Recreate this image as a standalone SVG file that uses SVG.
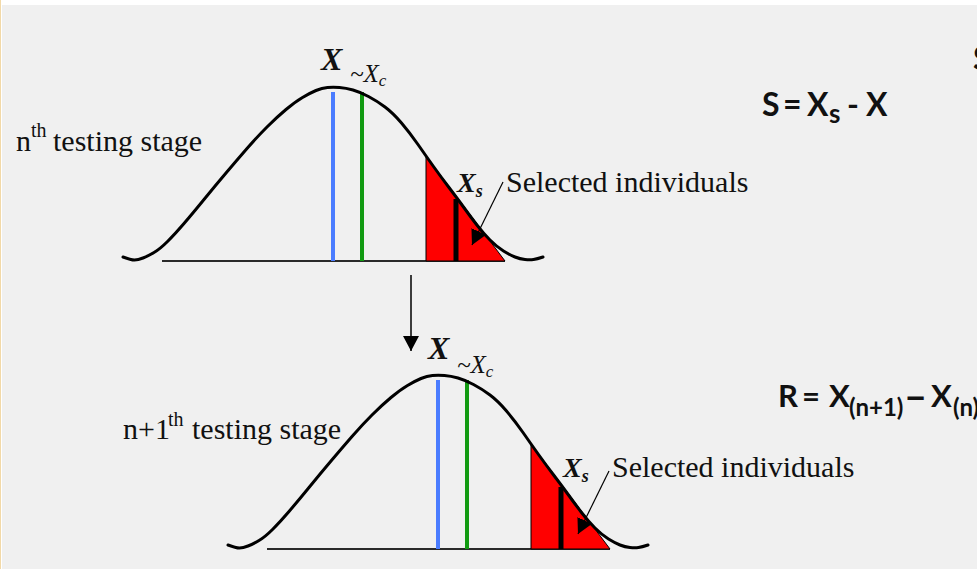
<svg xmlns="http://www.w3.org/2000/svg" xmlns:xlink="http://www.w3.org/1999/xlink" width="977" height="569" viewBox="0 0 977 569">
<style>
.curve{fill:none;stroke:#000;stroke-width:3;stroke-linecap:round;stroke-linejoin:round}
.base{stroke:#2a2a2a;stroke-width:2}
.mean{stroke:#4a7cff;stroke-width:4}
.sel{stroke:#119a11;stroke-width:4}
.tri{fill:#ff0000;stroke:#000;stroke-width:1}
.bar{stroke:#000;stroke-width:5}
.serif{font-family:"Liberation Serif","Times New Roman",serif;fill:#111}
.bi{font-weight:bold;font-style:italic}
.it{font-style:italic}
.calc{font-family:Lato,"Liberation Sans",sans-serif;font-weight:bold;fill:#111}
.lead{stroke:#000;stroke-width:1.2;fill:none}
.down{stroke:#000;stroke-width:1.5;fill:none}
</style>
<defs>
<marker id="ah" markerUnits="userSpaceOnUse" markerWidth="16" markerHeight="16" refX="15" refY="8" orient="auto" viewBox="0 0 16 16"><path d="M0,0 L15,8 L0,16 z" fill="#000"/></marker>
<g id="dist">
<line class="base" x1="162" y1="261" x2="505" y2="261"/>
<line class="mean" x1="333" y1="92" x2="333" y2="261"/>
<line class="sel" x1="362" y1="92" x2="362" y2="261"/>
<polygon class="tri" points="426,156 426,261 505,261"/>
<line class="bar" x1="456" y1="199" x2="456" y2="261"/>
<path class="curve" d="M123,257 Q131,260 134.5,260 Q138,260 143,258 Q148,256 154,252.5 Q160,249 167.5,241.5 Q175,234 184,223.5 Q193,213 204,199.5 Q215,186 226,173 Q237,160 247,148.5 Q257,137 267,127 Q277,117 286,109.5 Q295,102 302.5,97.5 Q310,93 316,90.5 Q322,88 327.5,87.5 Q333,87 339.5,87.5 Q346,88 353,90 Q360,92 368.5,96.5 Q377,101 385,107 Q393,113 401.5,123 Q410,133 418,144.5 Q426,156 433.5,166.5 Q441,177 449,187.5 Q457,198 463.5,207 Q470,216 476.5,224.5 Q483,233 490,240 Q497,247 503.5,251 Q510,255 515,257 Q520,259 525,259.5 Q530,260 533.5,259.5 Q537,259 543,257"/>
</g>
</defs>
<rect x="0" y="0" width="977" height="569" fill="#ffffff"/>
<rect x="2" y="5" width="975" height="564" fill="#f0f0f0"/>
<line x1="0.5" y1="0" x2="0.5" y2="569" stroke="#f2d9a8" stroke-width="1"/>

<g id="stage-n">
<use href="#dist" xlink:href="#dist"/>
<text class="serif" font-size="30" y="151"><tspan x="16">n</tspan><tspan x="31" y="137" font-size="20">th</tspan><tspan x="53" y="151">testing stage</tspan></text>
<text class="serif bi" font-size="32" x="321" y="70">X</text>
<text class="serif it" font-size="25" x="350" y="82">~X<tspan font-size="17" dy="4">c</tspan></text>
<text class="serif bi" font-size="28" x="457" y="192">X<tspan class="it" font-size="18" dy="5">s</tspan></text>
<text class="serif" font-size="30" x="506" y="192">Selected individuals</text>
</g>

<g id="stage-n1">
<use href="#dist" xlink:href="#dist" transform="translate(105,288)"/>
<text class="serif" font-size="30" y="439"><tspan x="123">n+1</tspan><tspan x="168" y="426" font-size="20">th</tspan><tspan x="192" y="439">testing stage</tspan></text>
<text class="serif bi" font-size="32" x="428" y="359">X</text>
<text class="serif it" font-size="25" x="457" y="373">~X<tspan font-size="17" dy="4">c</tspan></text>
<text class="serif bi" font-size="28" x="563" y="477">X<tspan class="it" font-size="18" dy="5">s</tspan></text>
<text class="serif" font-size="30" x="612" y="477">Selected individuals</text>
</g>

<g id="formula-s">
<text class="calc" font-size="32" y="116"><tspan x="762">S</tspan><tspan x="783">=</tspan><tspan x="807">X</tspan><tspan x="829" font-size="26" dy="7">s</tspan><tspan x="847" dy="-7">-</tspan><tspan x="866">X</tspan></text>
</g>
<g id="formula-r">
<text class="calc" font-size="31" y="407"><tspan x="778">R</tspan><tspan x="802">=</tspan><tspan x="829">X</tspan><tspan x="849" font-size="24" dy="9">(n+1)</tspan><tspan x="904" dy="-6" font-size="40">–</tspan><tspan x="931" dy="-3">X</tspan><tspan x="953" font-size="24" dy="9">(n)</tspan></text>
</g>
<g id="formula-clipped">
<text class="calc" font-size="32" x="973" y="70">S</text>
</g>

<g id="connectors">
<line class="down" x1="411" y1="275" x2="411" y2="351" marker-end="url(#ah)"/>
<line class="lead" x1="503" y1="182" x2="472" y2="245" marker-end="url(#ah)"/>
<line class="lead" x1="609" y1="471" x2="578" y2="534" marker-end="url(#ah)"/>
</g>
</svg>
